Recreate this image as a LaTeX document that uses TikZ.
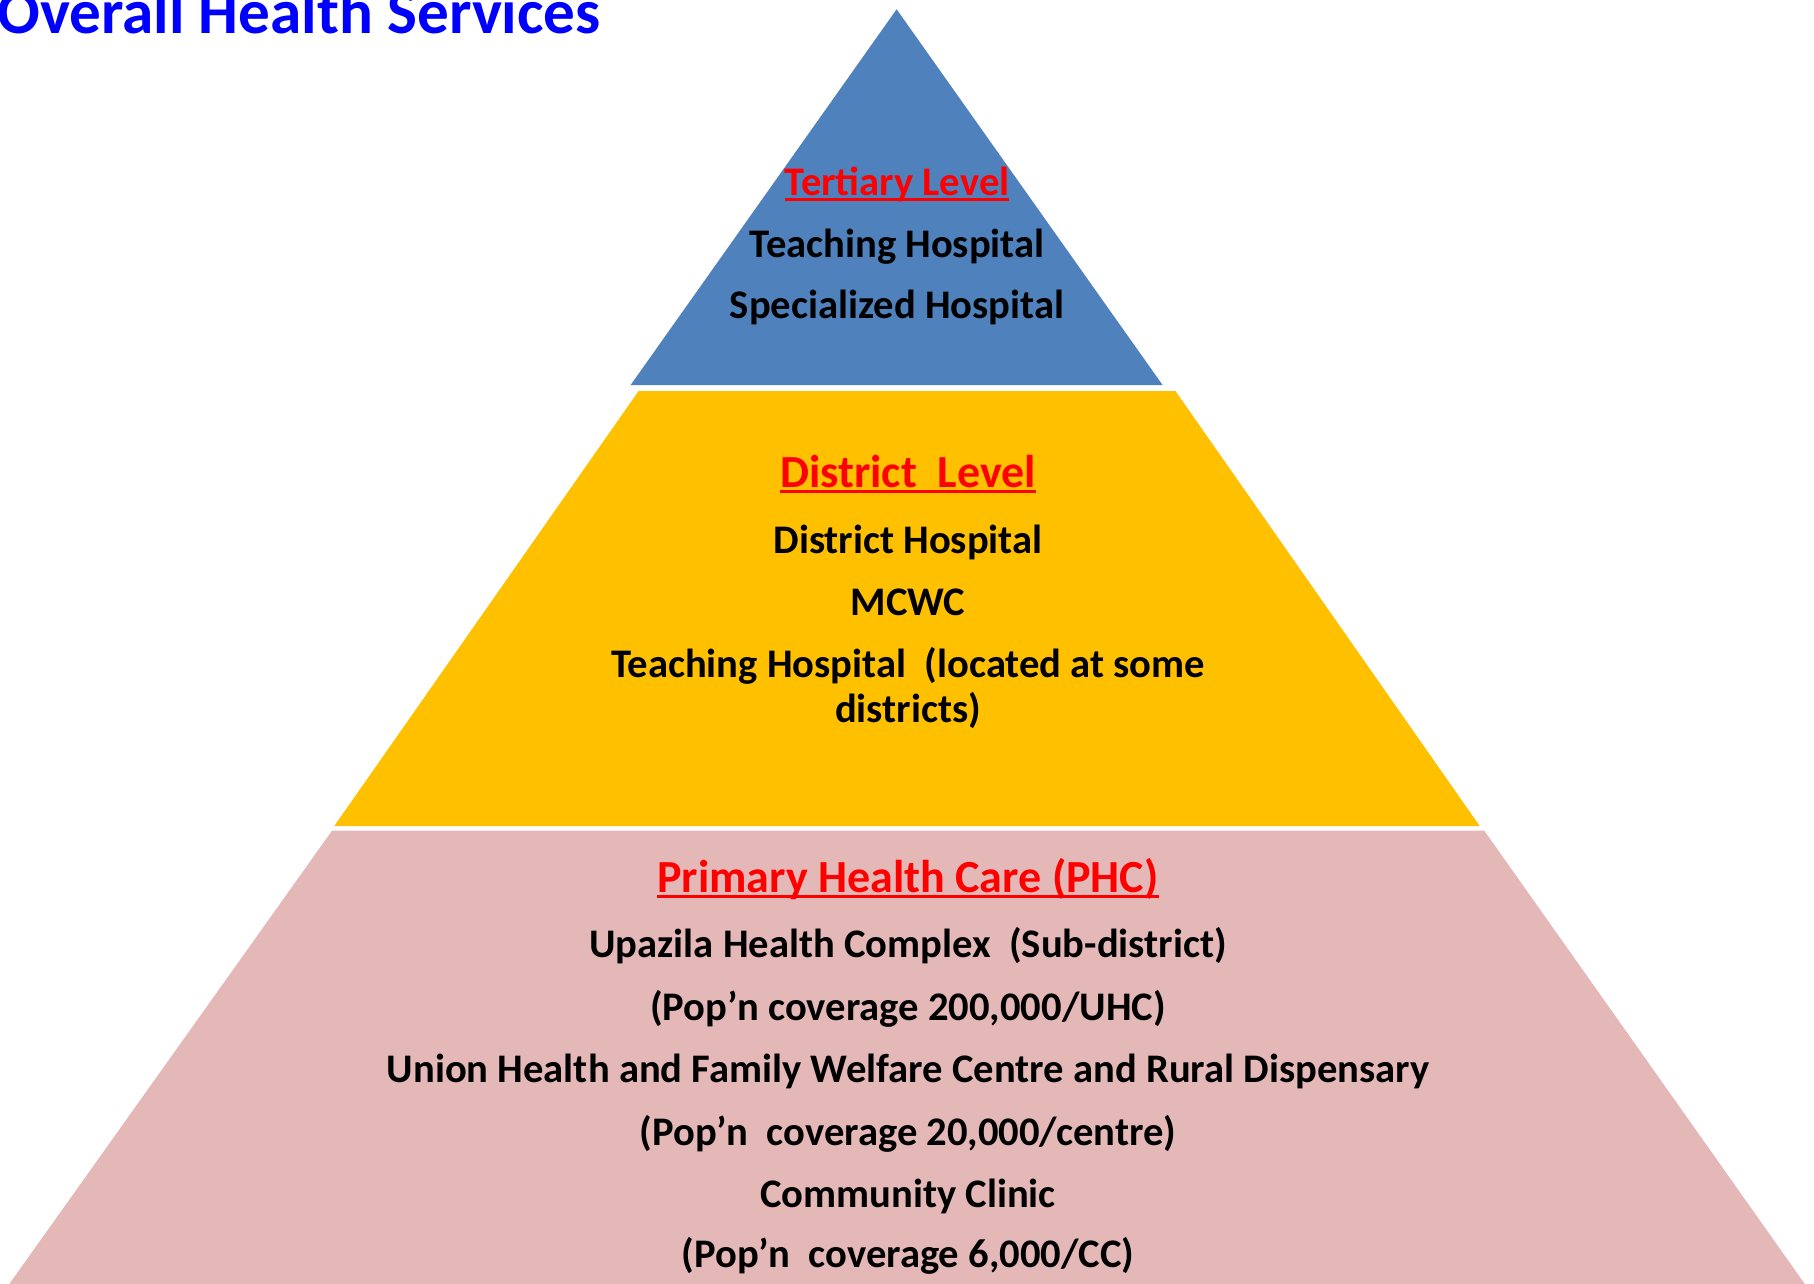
\documentclass[tikz,border=0pt]{standalone}
\usepackage{fontspec}
\setmainfont{Carlito}
\usepackage{xcolor}
\usepackage{tikz}

\definecolor{tertblue}{RGB}{79,129,189}
\definecolor{distyellow}{RGB}{255,192,0}
\definecolor{phcpink}{RGB}{229,184,184}
\newcommand{\lvlunder}[1]{\setbox0\hbox{#1}\rlap{\copy0}\rule[-0.14em]{\wd0}{1.5pt}}

\begin{document}
\begin{tikzpicture}[x=0.5pt,y=0.5pt,yscale=-1,xscale=1,
	lvltext/.style={anchor=base,inner sep=0.75pt,font=\bfseries\fontsize{20.3}{24}\selectfont},
	lvlhead/.style={lvltext,text=red,font=\bfseries\fontsize{23}{27}\selectfont}]
	\useasboundingbox (0,0) rectangle (1814,1284);
	
	%Shape: Triangle [tertiary]
	\draw [draw=none,fill=tertblue] (896.6,9.3) -- (1162.7,385.2) -- (630.5,385.2) -- cycle ;
	%Shape: Trapezoid [district]
	\draw [draw=none,fill=distyellow] (638.6,391) -- (1175.4,391) -- (1479.7,826) -- (334.3,826) -- cycle ;
	%Shape: Trapezoid [phc]
	\draw [draw=none,fill=phcpink] (332,830.7) -- (1484.3,830.7) -- (1804.8,1284) -- (9.3,1284) -- cycle ;
	
	% Text Node
	\draw (-3,34) node (title) [anchor=base west][inner sep=0pt][text={rgb,255:red,0;green,0;blue,255}]  {\bfseries\fontsize{31.6}{36}\selectfont Overall Health Services};
	
	% Text Node
	\draw (897,195) node (tertHead) [lvlhead][font=\bfseries\fontsize{20.3}{24}\selectfont]  {\lvlunder{Tertiary Level}};
	% Text Node
	\draw (897,257) node (tertTeach) [lvltext]  {Teaching Hospital};
	% Text Node
	\draw (897,318) node (tertSpec) [lvltext]  {Specialized Hospital};
	
	% Text Node
	\draw (908,487) node (distHead) [lvlhead]  {\lvlunder{District\ \ Level}};
	% Text Node
	\draw (908,553) node (distHosp) [lvltext]  {District Hospital};
	% Text Node
	\draw (908,615) node (distMcwc) [lvltext]  {MCWC};
	% Text Node
	\draw (908,677) node (distTeach) [lvltext]  {Teaching Hospital\ \ (located at some};
	% Text Node
	\draw (908,722) node (distTeachB) [lvltext]  {districts)};
	
	% Text Node
	\draw (908,892) node (phcHead) [lvlhead]  {\lvlunder{Primary Health Care (PHC)}};
	% Text Node
	\draw (908,957) node (phcUhc) [lvltext]  {Upazila Health Complex\ \ (Sub-district)};
	% Text Node
	\draw (908,1020) node (phcUhcPop) [lvltext]  {(Pop’n coverage 200,000/UHC)};
	% Text Node
	\draw (908,1082) node (phcUnion) [lvltext]  {Union Health and Family Welfare Centre and Rural Dispensary};
	% Text Node
	\draw (908,1145) node (phcUnionPop) [lvltext]  {(Pop’n\ \ coverage 20,000/centre)};
	% Text Node
	\draw (908,1207) node (phcCc) [lvltext]  {Community Clinic};
	% Text Node
	\draw (908,1267) node (phcCcPop) [lvltext]  {(Pop’n\ \ coverage 6,000/CC)};
\end{tikzpicture}
\end{document}
